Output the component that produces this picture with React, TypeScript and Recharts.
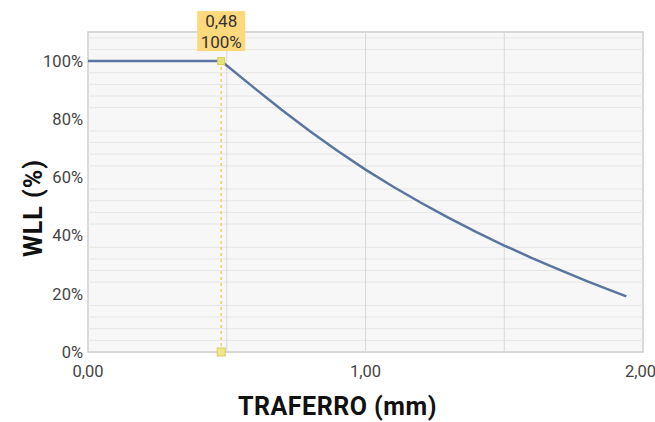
import {
  LineChart, Line, XAxis, YAxis, CartesianGrid, ReferenceLine, ReferenceDot, ReferenceArea, Label,
} from 'recharts';

// air gap (mm) vs working load limit (%)
const gapMm = [0, 0.48, 0.6, 0.7, 0.8, 0.9, 1.0, 1.1, 1.2, 1.3, 1.4, 1.5, 1.6, 1.7, 1.8, 1.9, 1.94];
const wllPct = [100, 100, 90.7, 83.1, 75.9, 69.1, 62.7, 56.8, 51.3, 46.1, 41.2, 36.6, 32.3, 28.2, 24.3, 20.6, 19.1];

const xTicks = [0, 1, 2];
const xGridLines = [0.5, 1, 1.5];
const yTicks = [0, 20, 40, 60, 80, 100];
const yMinorLines = [4, 8, 12, 16, 24, 28, 32, 36, 44, 48, 52, 56, 64, 68, 72, 76, 84, 88, 92, 96, 104, 108];

const markerX = 0.48;
const markerY = 100;

const chartData = gapMm.map((x, i) => ({ x, wll: wllPct[i] }));

const fmtX = (v: number) => v.toFixed(2).replace('.', ',');

const FONT = 'Roboto, "DejaVu Sans", sans-serif';

function MarkerShape(props: any) {
  const { cx, cy } = props;
  return (
    <g>
      <rect x={cx - 3.5} y={cy - 3.5} width={7} height={7} fill="#e6e27a" stroke="#d6cd5a" strokeWidth={1} />
      <rect x={cx - 24} y={cy - 50} width={48} height={40} fill="#fdd97c" />
      <text x={cx} y={cy - 34} textAnchor="middle" fontSize={17} fill="#333" fontFamily={FONT}>
        {fmtX(markerX)}
      </text>
      <text x={cx} y={cy - 13} textAnchor="middle" fontSize={17} fill="#333" fontFamily={FONT}>
        {`${markerY}%`}
      </text>
    </g>
  );
}

function BaseMarker(props: any) {
  const { cx, cy } = props;
  return <rect x={cx - 4} y={cy - 4} width={8} height={8} fill="#efe88a" stroke="#d9cc5c" strokeWidth={1} />;
}

export default function App() {
  return (
    <div style={{ position: 'absolute', left: 0, top: 0, width: 655, height: 422, background: '#fff' }}>
      <LineChart width={655} height={422} data={chartData} margin={{ top: 32, right: 12, bottom: 0, left: 0 }}>
        <ReferenceArea x1={0} x2={2} y1={0} y2={110} fill="#f7f7f7" fillOpacity={1} stroke="#cfcfcf" strokeWidth={1.5} />
        {yMinorLines.map((v) => (
          <ReferenceLine key={`m${v}`} y={v} stroke="#e6e6e6" strokeWidth={1} />
        ))}
        <CartesianGrid vertical={false} stroke="#d8d8d8" />
        {xGridLines.map((v) => (
          <ReferenceLine key={`v${v}`} x={v} stroke="#d8d8d8" strokeWidth={1} />
        ))}
        <XAxis
          dataKey="x"
          type="number"
          domain={[0, 2]}
          ticks={xTicks}
          tickFormatter={fmtX}
          tick={{ fill: '#444', fontSize: 16.5, fontFamily: FONT }}
          tickLine={false}
          axisLine={false}
          tickSize={0}
          tickMargin={13}
          height={70}
        >
          <Label
            content={({ viewBox }: any) => (
              <text
                x={viewBox.x + viewBox.width / 2 - 28}
                y={viewBox.y + 63}
                textAnchor="middle"
                fontSize={25}
                fontWeight={700}
                letterSpacing={0.5}
                fill="#111"
                fontFamily={FONT}
              >
                TRAFERRO (mm)
              </text>
            )}
          />
        </XAxis>
        <YAxis
          type="number"
          domain={[0, 110]}
          ticks={yTicks}
          tickFormatter={(v: number) => `${v}%`}
          tick={{ fill: '#444', fontSize: 16.5, fontFamily: FONT }}
          tickLine={false}
          axisLine={false}
          tickSize={0}
          tickMargin={5}
          width={88}
        >
          <Label
            content={({ viewBox }: any) => {
              const cx = viewBox.x + 33;
              const cy = viewBox.y + viewBox.height / 2 + 16;
              return (
                <text
                  x={cx}
                  y={cy}
                  transform={`rotate(-90 ${cx} ${cy})`}
                  textAnchor="middle"
                  dominantBaseline="central"
                  fontSize={25}
                  fontWeight={700}
                  letterSpacing={1}
                  fill="#111"
                  fontFamily={FONT}
                >
                  WLL (%)
                </text>
              );
            }}
          />
        </YAxis>
        <ReferenceLine
          segment={[{ x: markerX, y: 0 }, { x: markerX, y: markerY }]}
          stroke="#f3cf6a"
          strokeWidth={1.5}
          strokeDasharray="3 3"
        />
        <Line
          type="linear"
          dataKey="wll"
          stroke="#5a75a0"
          strokeWidth={2.5}
          dot={false}
          activeDot={false}
          isAnimationActive={false}
        />
        <ReferenceDot x={markerX} y={0} r={4} shape={BaseMarker} ifOverflow="visible" />
        <ReferenceDot x={markerX} y={markerY} r={4} shape={MarkerShape} ifOverflow="visible" />
      </LineChart>
    </div>
  );
}
